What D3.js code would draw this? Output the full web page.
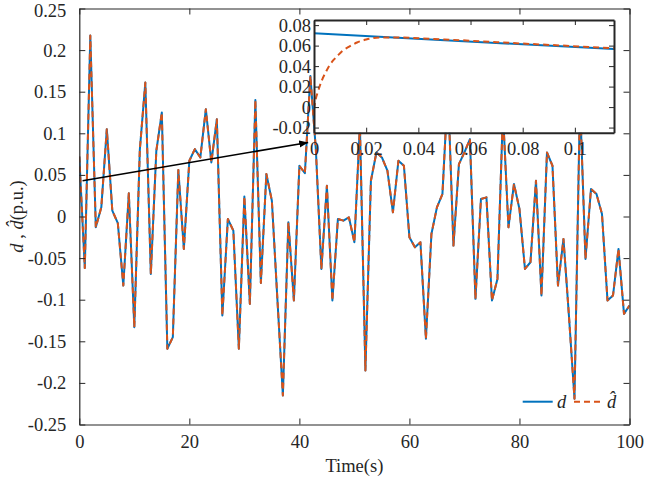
<!DOCTYPE html>
<html><head><meta charset="utf-8">
<script src="https://cdn.jsdelivr.net/npm/d3@7"></script>
<style>
html,body{margin:0;padding:0;background:#fff;}
svg{display:block;}
svg text{font-family:"Liberation Serif","Times New Roman","DejaVu Serif",serif !important;}
</style></head>
<body>
<svg id="chart" width="645" height="478"></svg>
<script>
// ---------- data ----------
const timeValues = d3.range(0, 101);
const dValues = [
 0.072,-0.062,0.2175,-0.013,0.011,0.105,0.007,-0.008,-0.083,0.028,
 -0.133,0.080,0.161,-0.069,0.079,0.125,-0.159,-0.145,0.056,-0.039,
 0.067,0.081,0.071,0.129,0.065,0.117,-0.119,-0.003,-0.017,-0.159,
 0.024,-0.105,0.140,-0.080,0.051,0.019,-0.099,-0.215,-0.007,-0.101,
 0.061,0.052,0.169,0.080,-0.063,0.037,-0.101,-0.003,-0.005,-0.001,
 -0.031,0.110,-0.185,0.043,0.077,0.071,0.055,0.005,0.067,0.061,
 -0.025,-0.037,-0.031,-0.147,-0.021,0.011,0.027,0.155,-0.035,0.063,
 0.077,0.093,-0.099,0.021,0.023,-0.101,-0.075,0.125,-0.013,0.039,
 0.009,-0.063,-0.055,0.043,-0.095,0.077,0.061,-0.083,-0.027,-0.120,
 -0.219,0.140,-0.051,0.033,0.027,0.003,-0.101,-0.095,-0.039,-0.117,
 -0.107
];
const dHatValues = dValues.slice();
// inset: estimator start-up transient
const insetTimes = [0,0.0005,0.0015,0.003,0.0045,0.006,0.0075,0.009,0.011,0.0135,0.0165,0.02,0.025,0.03,0.05,0.08,0.115];
const insetDHat  = [-0.002,0.006,0.015,0.026,0.034,0.041,0.046,0.050,0.055,0.059,0.063,0.066,0.068,0.068,0.066,0.062,0.0575];

const xTicks = [0,20,40,60,80,100];
const xTickLabels = ["0","20","40","60","80","100"];
const yTicks = [-0.25,-0.2,-0.15,-0.1,-0.05,0,0.05,0.1,0.15,0.2,0.25];
const yTickLabels = ["-0.25","-0.2","-0.15","-0.1","-0.05","0","0.05","0.1","0.15","0.2","0.25"];
const insetXTicks = [0,0.02,0.04,0.06,0.08,0.1];
const insetXTickLabels = ["0","0.02","0.04","0.06","0.08","0.1"];
const insetYTicks = [-0.02,0,0.02,0.04,0.06,0.08];
const insetYTickLabels = ["-0.02","0","0.02","0.04","0.06","0.08"];
const arrowPoints = [[0.6,0.043],[41.6,0.089]];
const legendLabels = ["d","d\u0302"];

// ---------- layout ----------
const svg = d3.select("#chart");
const L = 79.3, R = 629.5, T = 8.5, B = 424.5;
const blue = "#0072BD", orange = "#D95319";
const fs = 18.5;
const serif = "'Liberation Serif','Times New Roman','DejaVu Serif',serif";

const x = d3.scaleLinear().domain([0,100]).range([L,R]);
const y = d3.scaleLinear().domain([-0.25,0.25]).range([B,T]);

const defs = svg.append("defs");
defs.append("clipPath").attr("id","mainclip")
  .append("rect").attr("x",L).attr("y",T).attr("width",R-L).attr("height",B-T);

const line = d3.line().x((d,i)=>x(timeValues[i])).y(d=>y(d));
const gLines = svg.append("g").attr("clip-path","url(#mainclip)");
gLines.append("path").datum(dValues).attr("d",line)
  .attr("fill","none").attr("stroke",blue).attr("stroke-width",2).attr("stroke-linejoin","round");
gLines.append("path").datum(dHatValues).attr("d",line)
  .attr("fill","none").attr("stroke",orange).attr("stroke-width",2).attr("stroke-dasharray","6,4").attr("stroke-linejoin","round");

// axes
function styleAxis(g, showLabels){
  g.attr("font-family",serif);
  g.selectAll(".domain").attr("stroke","#262626").attr("stroke-width",1.2);
  g.selectAll(".tick line").attr("stroke","#262626").attr("stroke-width",1);
  g.selectAll(".tick text").style("font-family",serif).attr("font-size",fs).attr("fill","#262626");
  if(!showLabels) g.selectAll(".tick text").remove();
}
const ax = svg.append("g").attr("transform",`translate(0,${B})`)
  .call(d3.axisBottom(x).tickValues(xTicks).tickFormat((d,i)=>xTickLabels[i]).tickSizeInner(-6).tickSizeOuter(0).tickPadding(10));
styleAxis(ax,true);
const axT = svg.append("g").attr("transform",`translate(0,${T})`)
  .call(d3.axisTop(x).tickValues(xTicks).tickSizeInner(-6).tickSizeOuter(0));
styleAxis(axT,false);
const ay = svg.append("g").attr("transform",`translate(${L},0)`)
  .call(d3.axisLeft(y).tickValues(yTicks).tickFormat((d,i)=>yTickLabels[i]).tickSizeInner(-6).tickSizeOuter(0).tickPadding(13));
styleAxis(ay,true);
ay.selectAll(".tick text").filter((d)=>d===0.25).attr("dy","0.45em");
const ayR = svg.append("g").attr("transform",`translate(${R},0)`)
  .call(d3.axisRight(y).tickValues(yTicks).tickSizeInner(-6).tickSizeOuter(0));
styleAxis(ayR,false);

// axis titles
svg.append("text").attr("x",(L+R)/2).attr("y",472).attr("text-anchor","middle")
  .style("font-family",serif).attr("font-size",fs).attr("fill","#262626").text("Time(s)");
const yl = svg.append("text").attr("transform",`translate(23,${(T+B)/2}) rotate(-90)`)
  .style("font-family",serif).attr("text-anchor","middle").attr("font-size",fs).attr("fill","#262626");
yl.append("tspan").attr("font-style","italic").text("d");
yl.append("tspan").text(" , ");
yl.append("tspan").attr("font-style","italic").text("d\u0302");
yl.append("tspan").text("(p.u.)");

// arrow
defs.append("marker").attr("id","arrowhead").attr("viewBox","0 0 10 10").attr("refX",10).attr("refY",5)
  .attr("markerWidth",9).attr("markerHeight",9).attr("markerUnits","userSpaceOnUse").attr("orient","auto")
  .append("path").attr("d","M0,1 L10,5 L0,9 z").attr("fill","#000");
svg.append("line")
  .attr("x1",x(arrowPoints[0][0])).attr("y1",y(arrowPoints[0][1]))
  .attr("x2",x(arrowPoints[1][0])).attr("y2",y(arrowPoints[1][1]))
  .attr("stroke","#000").attr("stroke-width",1.6).attr("marker-end","url(#arrowhead)");

// ---------- inset ----------
const iL = 314, iR = 614, iT = 20, iB = 132.7;
const xi = d3.scaleLinear().domain([0,0.115]).range([iL,iR]);
const yi = d3.scaleLinear().domain([-0.025,0.085]).range([iB,iT]);
svg.append("rect").attr("x",iL).attr("y",iT).attr("width",iR-iL).attr("height",iB-iT).attr("fill","#fff");
defs.append("clipPath").attr("id","insetclip")
  .append("rect").attr("x",iL).attr("y",iT).attr("width",iR-iL).attr("height",iB-iT);
const gi = svg.append("g").attr("clip-path","url(#insetclip)");
const lineI = d3.line().x((d,i)=>xi(timeValues[i])).y(d=>yi(d));
gi.append("path").datum(dValues.slice(0,3)).attr("d",lineI)
  .attr("fill","none").attr("stroke",blue).attr("stroke-width",2);
const lineIH = d3.line().x((d,i)=>xi(insetTimes[i])).y(d=>yi(d)).curve(d3.curveMonotoneX);
gi.append("path").datum(insetDHat).attr("d",lineIH)
  .attr("fill","none").attr("stroke",orange).attr("stroke-width",2).attr("stroke-dasharray","6,4");

const aix = svg.append("g").attr("transform",`translate(0,${iB})`)
  .call(d3.axisBottom(xi).tickValues(insetXTicks).tickFormat((d,i)=>insetXTickLabels[i]).tickSizeInner(-5).tickSizeOuter(0).tickPadding(9));
styleAxis(aix,true);
const aixT = svg.append("g").attr("transform",`translate(0,${iT})`)
  .call(d3.axisTop(xi).tickValues(insetXTicks).tickSizeInner(-5).tickSizeOuter(0));
styleAxis(aixT,false);
const aiy = svg.append("g").attr("transform",`translate(${iL},0)`)
  .call(d3.axisLeft(yi).tickValues(insetYTicks).tickFormat((d,i)=>insetYTickLabels[i]).tickSizeInner(-5).tickSizeOuter(0).tickPadding(3));
styleAxis(aiy,true);
const aiyR = svg.append("g").attr("transform",`translate(${iR},0)`)
  .call(d3.axisRight(yi).tickValues(insetYTicks).tickSizeInner(-5).tickSizeOuter(0));
styleAxis(aiyR,false);
[aix,aixT,aiy,aiyR].forEach(g=>g.selectAll(".domain").attr("stroke-width",2));

// ---------- legend ----------
const lg = svg.append("g");
lg.append("line").attr("x1",522.7).attr("x2",552.7).attr("y1",401.7).attr("y2",401.7)
  .attr("stroke",blue).attr("stroke-width",2);
lg.append("text").attr("x",557).attr("y",407.5).style("font-family",serif).attr("font-style","italic").attr("font-size",fs).attr("fill","#262626").text(legendLabels[0]);
lg.append("line").attr("x1",574).attr("x2",603.3).attr("y1",401.7).attr("y2",401.7)
  .attr("stroke",orange).attr("stroke-width",2).attr("stroke-dasharray","6,4");
lg.append("text").attr("x",607).attr("y",407.5).style("font-family",serif).attr("font-style","italic").attr("font-size",fs).attr("fill","#262626").text(legendLabels[1]);
</script>
</body></html>
